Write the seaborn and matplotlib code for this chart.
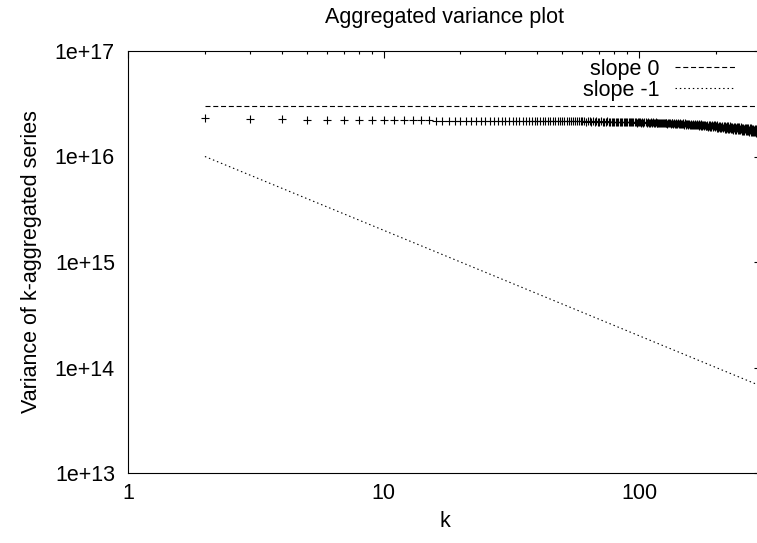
import numpy as np
import pandas as pd
import matplotlib
matplotlib.use("Agg")
import matplotlib.pyplot as plt
import seaborn as sns
from matplotlib.ticker import LogLocator, FixedLocator, FixedFormatter, NullFormatter

# ---------------- data ----------------
k_values = list(range(2, 301))
variance_e16 = [
    2.33, 2.27, 2.25, 2.24, 2.23, 2.22, 2.22, 2.21,
    2.21, 2.21, 2.20, 2.20, 2.20, 2.20, 2.19, 2.19, 2.19, 2.19,
    2.19, 2.19, 2.19, 2.18, 2.19, 2.18, 2.18, 2.18, 2.18, 2.18,
    2.18, 2.18, 2.17, 2.18, 2.17, 2.17, 2.18, 2.17, 2.17, 2.17,
    2.17, 2.17, 2.16, 2.17, 2.16, 2.17, 2.16, 2.16, 2.17, 2.16,
    2.16, 2.16, 2.15, 2.16, 2.16, 2.15, 2.16, 2.15, 2.15, 2.16,
    2.15, 2.15, 2.14, 2.15, 2.16, 2.14, 2.15, 2.14, 2.15, 2.14,
    2.14, 2.15, 2.14, 2.13, 2.14, 2.15, 2.13, 2.14, 2.13, 2.14,
    2.13, 2.14, 2.12, 2.14, 2.13, 2.12, 2.14, 2.13, 2.12, 2.13,
    2.12, 2.13, 2.11, 2.13, 2.12, 2.11, 2.13, 2.12, 2.10, 2.12,
    2.11, 2.13, 2.10, 2.12, 2.09, 2.12, 2.11, 2.09, 2.12, 2.10,
    2.09, 2.11, 2.08, 2.11, 2.10, 2.07, 2.11, 2.09, 2.08, 2.10,
    2.07, 2.10, 2.08, 2.06, 2.10, 2.08, 2.06, 2.09, 2.07, 2.05,
    2.09, 2.06, 2.08, 2.04, 2.08, 2.06, 2.03, 2.08, 2.05, 2.04,
    2.07, 2.03, 2.06, 2.05, 2.02, 2.07, 2.04, 2.02, 2.06, 2.03,
    2.01, 2.06, 2.03, 2.00, 2.05, 2.02, 2.00, 2.05, 2.01, 1.99,
    2.05, 2.01, 1.98, 2.04, 2.00, 1.98, 2.03, 1.99, 1.97, 2.03,
    1.99, 1.96, 2.02, 1.98, 1.96, 2.02, 1.97, 1.95, 2.01, 1.97,
    1.94, 2.01, 1.96, 1.93, 2.00, 1.96, 1.92, 2.00, 1.95, 1.92,
    1.99, 1.94, 1.91, 1.99, 1.94, 1.90, 1.98, 1.93, 1.89, 1.97,
    1.93, 1.88, 1.97, 1.92, 1.87, 1.96, 1.92, 1.86, 1.96, 1.91,
    1.86, 1.95, 1.90, 1.85, 1.95, 1.90, 1.84, 1.94, 1.89, 1.84,
    1.94, 1.88, 1.83, 1.93, 1.88, 1.82, 1.93, 1.87, 1.82, 1.92,
    1.87, 1.81, 1.92, 1.86, 1.80, 1.91, 1.86, 1.80, 1.91, 1.85,
    1.79, 1.90, 1.85, 1.78, 1.90, 1.84, 1.78, 1.89, 1.84, 1.77,
    1.89, 1.83, 1.76, 1.88, 1.83, 1.76, 1.88, 1.82, 1.75, 1.87,
    1.82, 1.74, 1.87, 1.81, 1.74, 1.86, 1.81, 1.73, 1.86, 1.80,
    1.72, 1.85, 1.80, 1.72, 1.85, 1.79, 1.71, 1.84, 1.79, 1.70,
    1.84, 1.78, 1.70, 1.83, 1.78, 1.69, 1.83, 1.77, 1.68, 1.82,
    1.77, 1.68, 1.82, 1.76, 1.67, 1.81, 1.76, 1.66, 1.81, 1.75,
    1.66,
]
slope0_level = 3e16          # reference line, slope 0
slope1_value_at_k2 = 1e16    # reference line, slope -1, anchored at k = 2

x_ticks = [1, 10, 100]
x_tick_labels = ["1", "10", "100"]
y_ticks = [1e13, 1e14, 1e15, 1e16, 1e17]
y_tick_labels = ["1e+13", "1e+14", "1e+15", "1e+16", "1e+17"]

title_text = "Aggregated variance plot"
x_label = "k"
y_label = "Variance of k-aggregated series"
legend_labels = ["slope 0", "slope -1"]

# ---------------- build table ----------------
k_arr = np.array(k_values, dtype=float)
df = pd.DataFrame({
    "k": k_arr,
    "variance": np.array(variance_e16) * 1e16,
    "slope0": np.full_like(k_arr, slope0_level),
    "slope1": slope1_value_at_k2 * k_arr[0] / k_arr,
})

# ---------------- style ----------------
sns.set_theme(style="white")
plt.rcParams["font.family"] = ["Liberation Sans", "DejaVu Sans"]
FS = 15.5
plt.rcParams.update({
    "axes.edgecolor": "black",
    "axes.linewidth": 0.8,
    "xtick.color": "black",
    "ytick.color": "black",
    "text.color": "black",
    "axes.labelcolor": "black",
})

fig = plt.figure(figsize=(7.57, 5.43), dpi=100)
W, H = 757, 543
left_px, right_px, top_px, bottom_px = 128, 761, 51, 473
ax = fig.add_axes([left_px / W, (H - bottom_px) / H,
                   (right_px - left_px) / W, (bottom_px - top_px) / H])

sns.scatterplot(data=df, x="k", y="variance", ax=ax, marker="+",
                color="black", s=28, linewidth=0.8, legend=False, zorder=3)
sns.lineplot(data=df, x="k", y="slope0", ax=ax, color="black",
             linewidth=0.8, linestyle=(0, (4.5, 2.5)), legend=False)
sns.lineplot(data=df, x="k", y="slope1", ax=ax, color="black",
             linewidth=0.8, linestyle=(0, (1.3, 2.6)), legend=False)

ax.set_xscale("log")
ax.set_yscale("log")
ax.set_xlim(1, 300)
ax.set_ylim(1e13, 1e17)

ax.xaxis.set_major_locator(FixedLocator(x_ticks))
ax.xaxis.set_major_formatter(FixedFormatter(x_tick_labels))
ax.yaxis.set_major_locator(FixedLocator(y_ticks))
ax.yaxis.set_major_formatter(FixedFormatter(y_tick_labels))
ax.xaxis.set_minor_locator(LogLocator(base=10, subs=np.arange(2, 10), numticks=100))
ax.yaxis.set_minor_locator(LogLocator(base=10, subs=np.arange(2, 10), numticks=100))
ax.xaxis.set_minor_formatter(NullFormatter())
ax.yaxis.set_minor_formatter(NullFormatter())

ax.tick_params(which="both", direction="in", top=True, right=True,
               width=0.8, color="black")
ax.tick_params(which="major", length=5)
ax.tick_params(which="minor", length=2.5)
ax.tick_params(axis="x", which="major", pad=7.3, labelsize=FS)
ax.tick_params(axis="y", which="major", pad=9.4, labelsize=FS)
for sp in ax.spines.values():
    sp.set_color("black")
    sp.set_linewidth(0.8)
    sp.set_visible(True)

ax.set_title(title_text, fontsize=FS, pad=20.5)
ax.set_xlabel(x_label, fontsize=FS, labelpad=5)
ax.set_ylabel(y_label, fontsize=FS, labelpad=9.5)

handles = [ax.lines[0], ax.lines[1]]
ax.legend(handles=handles, labels=legend_labels, loc="upper right",
          bbox_to_anchor=(735 / W, 1 - 59 / H), bbox_transform=fig.transFigure,
          frameon=False, markerfirst=False, fontsize=FS,
          handlelength=2.8, handletextpad=0.7, labelspacing=-0.02,
          borderpad=0, borderaxespad=0)

fig.savefig("out.png", dpi=100)
